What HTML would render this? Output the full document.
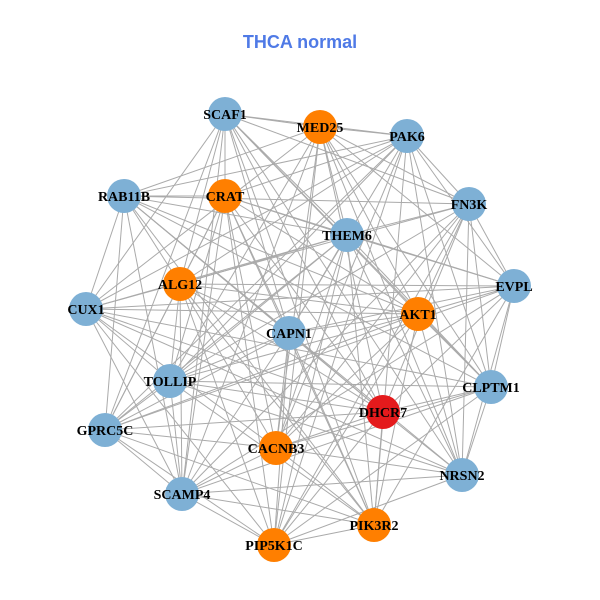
<!DOCTYPE html>
<html><head><meta charset="utf-8"><style>
html,body{margin:0;padding:0;background:#fff;width:600px;height:600px;overflow:hidden}
</style></head><body>
<svg id="s" width="600" height="600" xmlns="http://www.w3.org/2000/svg">
<rect width="600" height="600" fill="#fff"/>
<text x="300" y="48" text-anchor="middle" font-family="Liberation Sans, sans-serif" font-weight="bold" font-size="18" fill="#4f7ae6">THCA normal</text>
<g id="e" stroke="#aaaaaa" stroke-width="1"></g>
<g id="n"></g>
</svg>
<script>
var N=[["SCAF1",225,114,"b"],["MED25",320,127,"o"],["PAK6",407,136,"b"],["CRAT",225,196,"o"],["RAB11B",124,196,"b"],["FN3K",469,204,"b"],["THEM6",347,235,"b"],["ALG12",180,284,"o"],["EVPL",514,286,"b"],["CUX1",86,309,"b"],["AKT1",418,314,"o"],["CAPN1",289,333,"b"],["TOLLIP",170,381,"b"],["CLPTM1",491,387,"b"],["DHCR7",383,412,"r"],["GPRC5C",105,430,"b"],["CACNB3",276,448,"o"],["NRSN2",462,475,"b"],["SCAMP4",182,494,"b"],["PIK3R2",374,525,"o"],["PIP5K1C",274,545,"o"]];
var C={b:"#7eb0d5",o:"#ff7f00",r:"#e41a1c"};
var ns="http://www.w3.org/2000/svg",E=document.getElementById("e"),G=document.getElementById("n");
for(var i=0;i<N.length;i++)for(var j=i+1;j<N.length;j++){
 if((i*7+j*3)%4==0)continue;
 var l=document.createElementNS(ns,"line");
 l.setAttribute("x1",N[i][1]);l.setAttribute("y1",N[i][2]);l.setAttribute("x2",N[j][1]);l.setAttribute("y2",N[j][2]);E.appendChild(l);}
N.forEach(function(d){
 var c=document.createElementNS(ns,"circle");c.setAttribute("cx",d[1]);c.setAttribute("cy",d[2]);c.setAttribute("r",17);c.setAttribute("fill",C[d[3]]);G.appendChild(c);
});
N.forEach(function(d){
 var t=document.createElementNS(ns,"text");t.setAttribute("x",d[1]);t.setAttribute("y",d[2]+5);t.setAttribute("text-anchor","middle");
 t.setAttribute("font-family","Liberation Serif, serif");t.setAttribute("font-weight","bold");t.setAttribute("font-size","14");t.textContent=d[0];G.appendChild(t);
});
</script>
</body></html>
